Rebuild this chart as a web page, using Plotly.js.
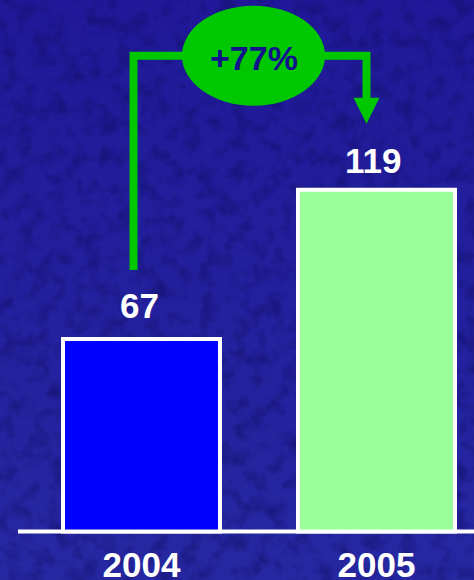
<!DOCTYPE html>
<html>
<head>
<meta charset="utf-8">
<script src="https://cdn.plot.ly/plotly-3.0.1.min.js"></script>
<style>
  html, body { margin: 0; padding: 0; width: 474px; height: 580px; overflow: hidden; }
  body { background-color: #2323a0; }
  #chart { width: 474px; height: 580px; }
</style>
</head>
<body>
<div id="chart"></div>
<script>
// Chart data
const years = ['2004', '2005'];
const values = [67, 119];
const growthLabel = '+77%';

// Styling
const barColors = ['#0000ff', '#99ff99'];
const arrowGreen = '#00c800';
const growthTextColor = '#12128c';
const fontFamily = 'Liberation Sans, Arial, sans-serif';

// Mottled navy backdrop made from SVG noise
(function () {
  const svg =
    "<svg xmlns='http://www.w3.org/2000/svg' width='474' height='580'>" +
    "<defs><linearGradient id='g' x1='0' y1='0' x2='0' y2='1'>" +
    "<stop offset='0' stop-color='#201898'/><stop offset='1' stop-color='#2628a2'/>" +
    "</linearGradient>" +
    "<filter id='n' x='0' y='0' width='100%' height='100%' color-interpolation-filters='sRGB'>" +
    "<feTurbulence type='fractalNoise' baseFrequency='0.06' numOctaves='3' seed='7'/>" +
    "<feColorMatrix values='0 0 0 0 0.06  0 0 0 0 0.05  0 0 0 0 0.38  0 0 0 2.2 -0.98'/>" +
    "<feGaussianBlur stdDeviation='0.6'/>" +
    "</filter></defs>" +
    "<rect width='100%' height='100%' fill='url(#g)'/>" +
    "<rect width='100%' height='100%' filter='url(#n)' opacity='0.55'/>" +
    "</svg>";
  document.body.style.backgroundImage = 'url("data:image/svg+xml,' + encodeURIComponent(svg) + '")';
})();

// Plot geometry: pixel scale of both axes
const W = 474, H = 580, marginBottom = 45;
const plotH = H - marginBottom;
const pxPerX = 235;          // pixels between category centres
const firstCentrePx = 141.5; // pixel position of the first category
const pxPerY = 2.872;        // pixels per unit of value
const baselinePx = 531.5;    // pixel row of value 0
const xRange = [-firstCentrePx / pxPerX, (W - firstCentrePx) / pxPerX];
const yRange = [-(plotH - baselinePx) / pxPerY, baselinePx / pxPerY];
const dx = px => px / pxPerX;
const dy = px => px / pxPerY;

const positions = years.map((_, i) => i);

// Bars
const bars = {
  type: 'bar',
  x: positions,
  y: values,
  width: 0.668,
  marker: { color: barColors, line: { color: '#ffffff', width: 4 } },
  hoverinfo: 'skip'
};

// Growth bracket from the first bar to the second
const xl = positions[0] + dx(-8);
const xr = positions[1] + dx(-10);
const yStart = values[0] + dy(69);
const yLevel = values[1] + dy(134);
const tipY = values[1] + dy(66);
const headBaseY = tipY + dy(26);

const bracket = {
  type: 'scatter', mode: 'lines',
  x: [xl, xl, xr, xr],
  y: [yStart, yLevel, yLevel, headBaseY - dy(1)],
  line: { color: arrowGreen, width: 8 },
  hoverinfo: 'skip'
};
const arrowHead = {
  type: 'scatter', mode: 'lines',
  x: [xr - dx(13), xr + dx(13), xr, xr - dx(13)],
  y: [headBaseY, headBaseY, tipY, headBaseY],
  fill: 'toself', fillcolor: arrowGreen,
  line: { width: 0, color: arrowGreen },
  hoverinfo: 'skip'
};

const ellipseX = (xl + xr) / 2 + dx(3.5);

// Value labels above each bar
const labelShiftY = [33.5, 29];
const labelShiftX = [-2, -4];
const valueLabels = values.map((v, i) => ({
  x: positions[i], y: v, xref: 'x', yref: 'y',
  text: String(v), showarrow: false,
  xanchor: 'center', yanchor: 'middle',
  xshift: labelShiftX[i], yshift: labelShiftY[i],
  font: { family: fontFamily, size: 35, color: '#ffffff', weight: 'bold' }
}));

const growthAnnotation = {
  x: ellipseX, y: yLevel, xref: 'x', yref: 'y',
  text: growthLabel, showarrow: false,
  xanchor: 'center', yanchor: 'middle', yshift: -2,
  font: { family: fontFamily, size: 34, color: growthTextColor, weight: 'bold' }
};

const layout = {
  width: W, height: H,
  margin: { l: 0, r: 0, t: 0, b: marginBottom, pad: 0 },
  paper_bgcolor: 'rgba(0,0,0,0)',
  plot_bgcolor: 'rgba(0,0,0,0)',
  showlegend: false,
  xaxis: {
    type: 'linear', range: xRange,
    tickmode: 'array', tickvals: positions, ticktext: years,
    showgrid: false, zeroline: false, showline: false, ticks: '',
    tickfont: { family: fontFamily, size: 35, color: '#ffffff', weight: 'bold' },
    ticklabelstandoff: 6
  },
  yaxis: { range: yRange, visible: false, showgrid: false, zeroline: false },
  shapes: [
    { type: 'line', layer: 'below', xref: 'paper', yref: 'y',
      x0: 18 / W, x1: 1, y0: 0, y1: 0,
      line: { color: '#ffffff', width: 4 } },
    { type: 'circle', layer: 'above', xref: 'x', yref: 'y',
      xsizemode: 'pixel', xanchor: ellipseX, x0: -71.5, x1: 71.5,
      ysizemode: 'pixel', yanchor: yLevel, y0: -50, y1: 50,
      fillcolor: arrowGreen, line: { width: 0 } }
  ],
  annotations: valueLabels.concat([growthAnnotation])
};

Plotly.newPlot('chart', [bars, bracket, arrowHead], layout, { staticPlot: true, displayModeBar: false });
</script>
</body>
</html>
